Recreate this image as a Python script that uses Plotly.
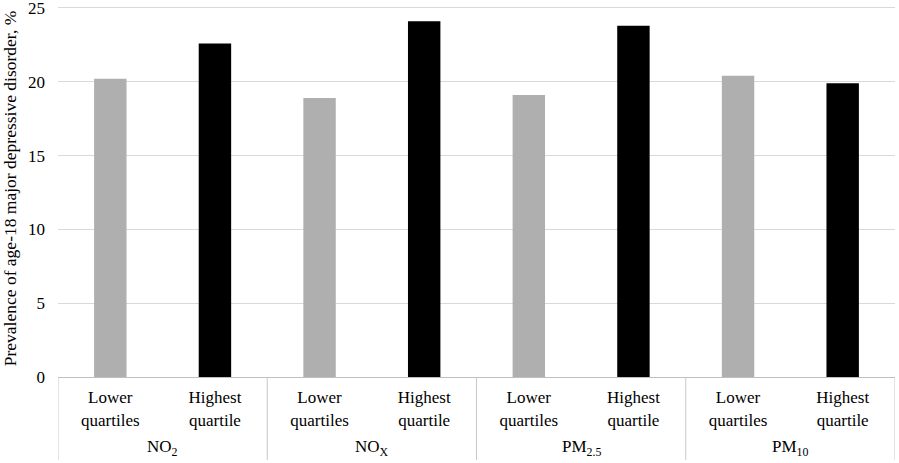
import plotly.graph_objects as go

pollutants = ["NO<sub>2</sub>", "NO<sub>X</sub>", "PM<sub>2.5</sub>", "PM<sub>10</sub>"]
groups = ["Lower<br>quartiles", "Highest<br>quartile"]
lower_vals = [20.2, 18.9, 19.1, 20.4]
highest_vals = [22.6, 24.1, 23.8, 19.9]
bar_colors = ["#afafaf", "#000000"]

xs, labels, vals, cols = [], [], [], []
for i, p in enumerate(pollutants):
    for j, g in enumerate(groups):
        xs.append(len(xs))
        labels.append(g)
        vals.append([lower_vals, highest_vals][j][i])
        cols.append(bar_colors[j])

fig = go.Figure(go.Bar(x=xs, y=vals, marker=dict(color=cols, line=dict(width=0)),
                       width=0.31))

serif = "Liberation Serif"
plot_h = 463 - 86  # plot height in px (t=0)

# group labels under the inner tick labels
n = len(groups)
for i, p in enumerate(pollutants):
    fig.add_annotation(x=i * n + (n - 1) / 2, xref="x", y=(377 - 448) / plot_h, yref="paper",
                       text=p, showarrow=False, yanchor="middle",
                       font=dict(family=serif, size=17, color="#000"))
# group dividers
for k in range(len(pollutants) + 1):
    fig.add_shape(type="line", xref="x", yref="paper", x0=k * n - 0.5, x1=k * n - 0.5,
                  y0=0, y1=(377 - 460) / plot_h, line=dict(color="#c8c8c8", width=1))

fig.update_layout(
    width=899, height=463,
    margin=dict(l=58, r=4, t=0, b=86, autoexpand=False),
    plot_bgcolor="white", paper_bgcolor="white",
    font=dict(family=serif, size=16, color="#000"), showlegend=False,
    xaxis=dict(range=[-0.5, len(xs) - 0.5], tickvals=xs, ticktext=labels,
               showline=True, linecolor="#bfbfbf", linewidth=1, showgrid=False, zeroline=False,
               ticks="", ticklabelstandoff=5,
               tickfont=dict(family=serif, size=17, color="#000"), automargin=False),
    yaxis=dict(range=[0, 25.54], dtick=5, tick0=0, showgrid=True, gridcolor="#d9d9d9", gridwidth=1,
               zeroline=False, showline=False, ticks="", ticklabelstandoff=12,
               ticklabeloverflow="allow",
               tickfont=dict(family=serif, size=17, color="#000"),
               automargin=False,
               title=dict(text="Prevalence of age-18 major depressive disorder, %",
                          font=dict(family=serif, size=17.5, color="#000"), standoff=10)),
)
fig.write_html("out.html", config={"displayModeBar": False},
               post_script="document.body.style.margin='0';")
